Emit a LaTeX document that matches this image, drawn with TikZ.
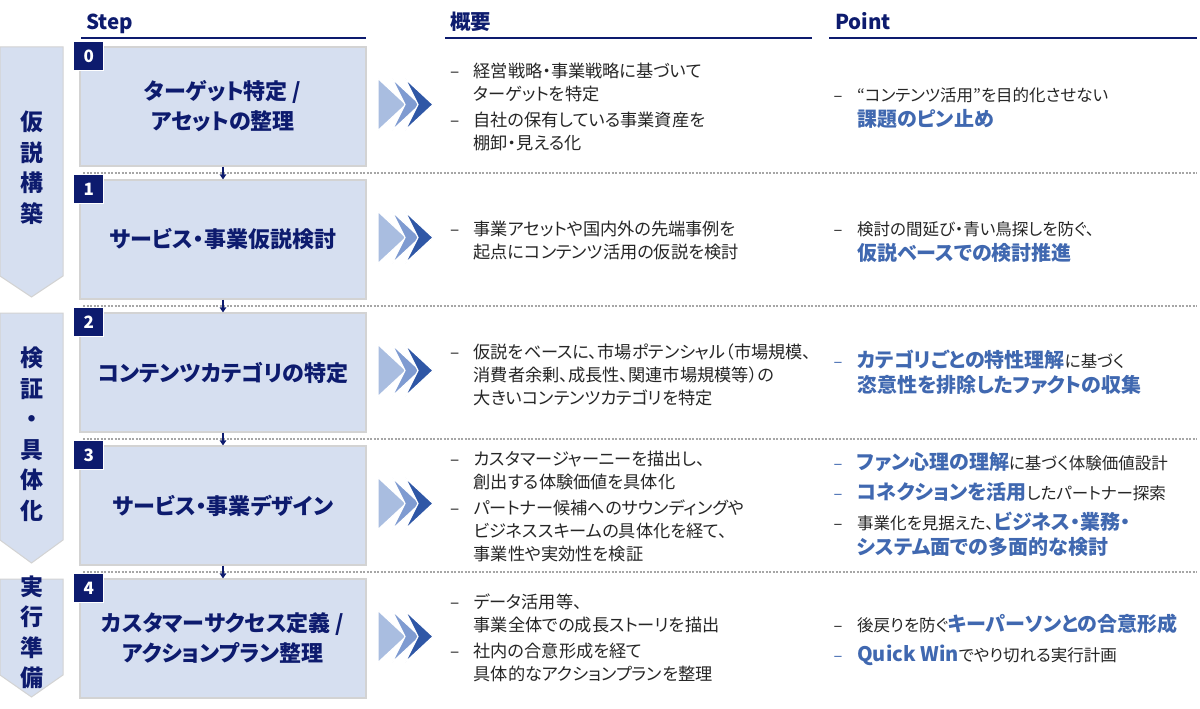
\documentclass[tikz,border=0pt]{standalone}
\usepackage{fontspec}
\setmainfont{Noto Sans CJK JP}[RawFeature=+palt]
\usetikzlibrary{arrows.meta,positioning}

\definecolor{navy}{HTML}{0D1B6E}
\definecolor{boxfill}{HTML}{D6DFF0}
\definecolor{boxline}{HTML}{D3D3D3}
\definecolor{chevA}{HTML}{A9BDE0}
\definecolor{chevB}{HTML}{7F9BD1}
\definecolor{chevC}{HTML}{2F57A6}
\definecolor{ptblue}{HTML}{4068B0}
\definecolor{sepgray}{HTML}{A6A6A6}
\definecolor{bodytext}{HTML}{262626}

\newcommand\itemdash[1][bodytext]{\makebox[23.5pt][l]{\color{#1}–}}
\newcommand\indentln{\hspace*{23.5pt}}
\newcommand\ptem[1]{{\bfseries\fontsize{20}{25}\selectfont\color{ptblue}#1}}

\tikzset{
    headlbl/.style={anchor=base west, inner sep=0, text=navy,
        font=\bfseries\fontsize{20.5}{24}\selectfont},
    headline/.style={draw=navy, line width=2pt},
    stepbox/.style={draw=boxline, line width=1.2pt, fill=boxfill,
        minimum width=286pt, minimum height=119pt, inner sep=0,
        align=center, text=navy, font=\bfseries\fontsize{22}{30}\selectfont},
    numbox/.style={fill=navy, draw=white, line width=.6pt, inner sep=0,
        minimum width=30pt, minimum height=29pt, text=white,
        font=\bfseries\fontsize{17}{17}\selectfont},
    phasebox/.style={fill=boxfill, draw=boxline, line width=1pt},
    phasetext/.style={inner sep=0, align=center, text=navy,
        font=\bfseries\fontsize{23}{30.5}\selectfont},
    sepline/.style={draw=sepgray, line width=1.1pt, dash pattern=on 2pt off 1.5pt},
    dnarrow/.style={draw=navy, line width=1.4pt, -{Triangle[width=6.5pt,length=5pt]}},
    chevlight/.style={fill=chevA, draw=white, line width=1.2pt},
    chevmid/.style={fill=chevB, draw=white, line width=1.2pt},
    chevdark/.style={fill=chevC, draw=white, line width=1.2pt},
    desc/.style={anchor=north west, inner sep=0, align=left, text=bodytext,
        font=\fontsize{17.2}{23}\selectfont},
    point/.style={anchor=north west, inner sep=0, align=left, text=bodytext,
        font=\fontsize{16.5}{25}\selectfont},
}

\begin{document}
\begin{tikzpicture}[x=1pt,y=-1pt]
    \fill[white] (0,0) rectangle (1200,709);
    \useasboundingbox (0,0) rectangle (1200,709);

    % column headers
    \node[headlbl] (hstep) at (86,30) {Step};
    \node[headlbl] (hdesc) at (450,30) {概要};
    \node[headlbl] (hpoint) at (835,30) {Point};
    \draw[headline] (81,38) -- (366,38);
    \draw[headline] (445,38) -- (812,38);
    \draw[headline] (829,38) -- (1197,38);

    % row separators
    \foreach \i in {0,...,3}
        \draw[sepline] (83,173+133*\i) -- (1197,173+133*\i);

    % phases
    \draw[phasebox] (0,47) -- (63,47) -- (63,276) -- (31.5,297) -- (0,276) -- cycle;
    \draw[phasebox] (0,313) -- (63,313) -- (63,540) -- (31.5,563) -- (0,540) -- cycle;
    \draw[phasebox] (0,579) -- (63,579) -- (63,675) -- (31.5,697) -- (0,675) -- cycle;
    \node[phasetext] (ph1) at (31.5,167.5) {仮\\説\\構\\築};
    \node[phasetext] (ph2) at (31.5,434) {検\\証\\・\\具\\体\\化};
    \node[phasetext] (ph3) at (31.5,632.5) {実\\行\\準\\備};

    % steps with number and chevrons
    \foreach \i/\ttl in {0/{ターゲット特定 /\\アセットの整理},
                         1/{サービス・事業仮説検討},
                         2/{コンテンツカテゴリの特定},
                         3/{サービス・事業デザイン},
                         4/{カスタマーサクセス定義 /\\アクションプラン整理}} {
        \node[stepbox] (step\i) at (223,106.5+133*\i) {\ttl};
        \node[numbox, anchor=north west] (num\i) at ([shift={(-6pt,5pt)}]step\i.north west) {\i};
        \begin{scope}[shift={(0,104.5+133*\i)}]
            \path[chevlight] (378,-26) -- (406,0) -- (378,26) -- cycle;
            \path[chevmid] (392,-26) -- (420,0) -- (392,26) -- (405,0) -- cycle;
            \path[chevdark] (405,-26) -- (433,0) -- (405,26) -- (418,0) -- cycle;
        \end{scope}
    }
    \foreach \i [evaluate=\i as \j using int(\i+1)] in {0,...,3}
        \draw[dnarrow] (step\i) -- (step\j);

    % overview column
    \node[desc] (desc0) at (450,61.1) {\strut\itemdash 経営戦略・事業戦略に基づいて\\
        \indentln ターゲットを特定\\[3pt]
        \itemdash 自社の保有している事業資産を\\
        \indentln 棚卸・見える化};
    \node[desc] (desc1) at (450,219.4) {\strut\itemdash 事業アセットや国内外の先端事例を\\
        \indentln 起点にコンテンツ活用の仮説を検討};
    \node[desc] (desc2) at (450,342.1) {\strut\itemdash 仮説をベースに、市場ポテンシャル（市場規模、\\
        \indentln 消費者余剰、成長性、関連市場規模等）の\\
        \indentln 大きいコンテンツカテゴリを特定};
    \node[desc] (desc3) at (450,449.4) {\strut\itemdash カスタマージャーニーを描出し、\\
        \indentln 創出する体験価値を具体化\\[3pt]
        \itemdash パートナー候補へのサウンディングや\\
        \indentln ビジネススキームの具体化を経て、\\
        \indentln 事業性や実効性を検証};
    \node[desc] (desc4) at (450,592.4) {\strut\itemdash データ活用等、\\
        \indentln 事業全体での成長ストーリを描出\\[3pt]
        \itemdash 社内の合意形成を経て\\
        \indentln 具体的なアクションプランを整理};

    % point column
    \node[point] (pt0) at (833.5,83.8) {\strut\itemdash “コンテンツ活用”を目的化させない\\
        \indentln\ptem{課題のピン止め}};
    \node[point] (pt1) at (833.5,217.8) {\strut\itemdash 検討の間延び・青い鳥探しを防ぐ、\\
        \indentln\ptem{仮説ベースでの検討推進}};
    \node[point] (pt2) at (833.5,349.9) {\strut\itemdash[ptblue]\ptem{カテゴリごとの特性理解}に基づく\\
        \indentln\ptem{恣意性を排除したファクトの収集}};
    \node[point] (pt3) at (833.5,452.2) {\strut\itemdash[ptblue]\ptem{ファン心理の理解}に基づく体験価値設計\\[5pt]
        \itemdash[ptblue]\ptem{コネクションを活用}したパートナー探索\\[5pt]
        \itemdash 事業化を見据えた、\ptem{ビジネス・業務・}\\
        \indentln\ptem{システム面での多面的な検討}};
    \node[point] (pt4) at (833.5,613.9) {\strut\itemdash 後戻りを防ぐ\ptem{キーパーソンとの合意形成}\\[5pt]
        \itemdash[ptblue]\ptem{Quick Win}でやり切れる実行計画};
\end{tikzpicture}
\end{document}
